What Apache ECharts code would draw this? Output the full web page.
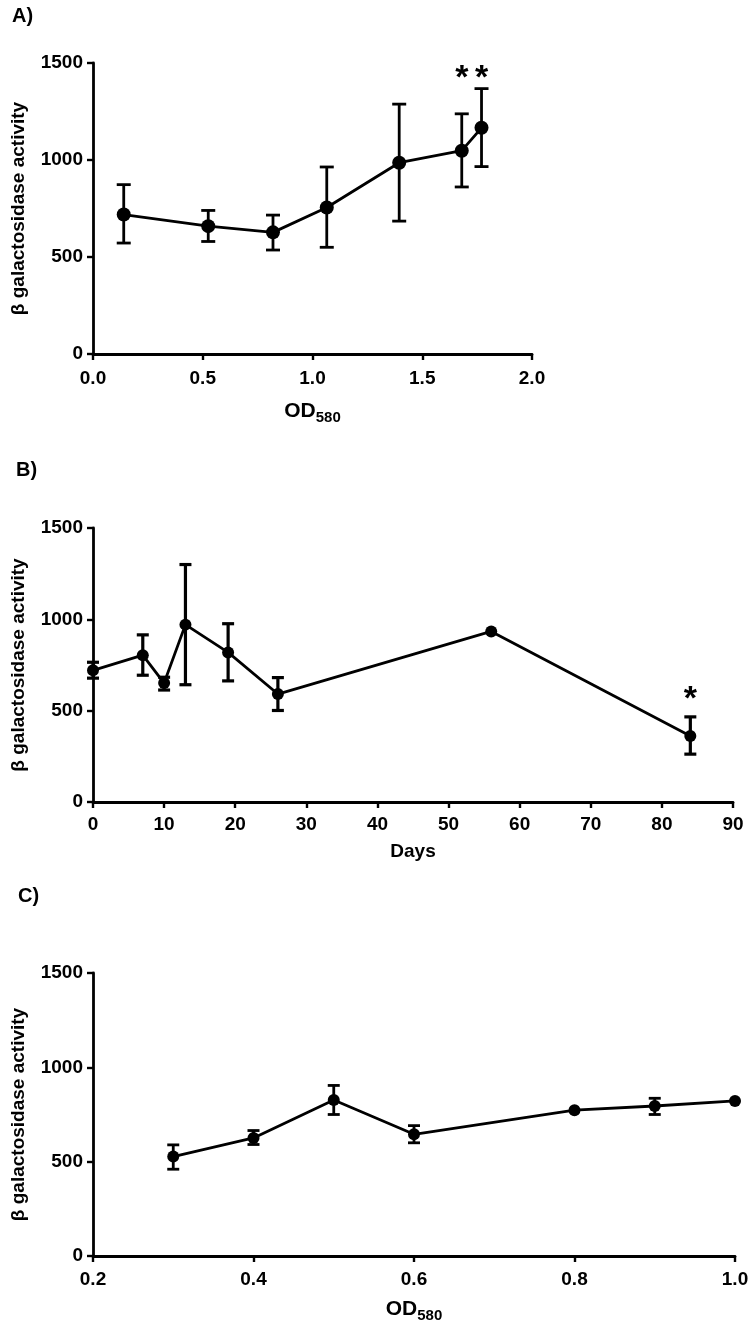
<!DOCTYPE html>
<html>
<head>
<meta charset="utf-8">
<script src="https://cdn.jsdelivr.net/npm/echarts@6/dist/echarts.min.js"></script>
<style>
html,body{margin:0;padding:0;background:#fff;}
#chart{width:755px;height:1331px;}
</style>
</head>
<body>
<div id="chart"></div>
<script>
// ---- Panel A: activity vs OD580 ----
const aOD    = [0.14, 0.525, 0.82, 1.065, 1.395, 1.68, 1.77];
const aMean  = [719, 659, 627, 755, 986, 1048, 1166];
const aLow   = [572, 580, 536, 550, 685, 861, 966];
const aHigh  = [873, 740, 716, 964, 1288, 1238, 1368];
const aStars = [[1.68, 1460], [1.77, 1460]];

// ---- Panel B: activity vs Days ----
const bDays  = [0, 7, 10, 13, 19, 26, 56, 84];
const bMean  = [721, 804, 651, 971, 819, 591, 934, 361];
const bLow   = [678, 694, 613, 642, 663, 501, null, 262];
const bHigh  = [765, 915, 683, 1300, 976, 681, null, 466];
const bStars = [[84, 605]];

// ---- Panel C: activity vs OD580 ----
const cOD    = [0.3, 0.4, 0.5, 0.6, 0.8, 0.9, 1.0];
const cMean  = [527, 626, 827, 645, 773, 795, 822];
const cLow   = [460, 591, 750, 600, null, 750, null];
const cHigh  = [589, 665, 904, 691, null, 836, null];

const yTicks = [0, 500, 1000, 1500];
const yTitle = 'β galactosidase activity';
const panelLabels = ['A)', 'B)', 'C)'];

const FONT = '"Liberation Sans", Arial, Helvetica, sans-serif';

function pts(xs, ys) { return xs.map((x, i) => [x, ys[i]]); }
function bars(xs, lo, hi) {
  const out = [];
  xs.forEach((x, i) => { if (lo[i] != null && hi[i] != null) out.push([x, lo[i], hi[i]]); });
  return out;
}

function errRender(capHalf, lw) {
  return function (params, api) {
    const x = api.value(0), lo = api.value(1), hi = api.value(2);
    const t = api.coord([x, hi]), b = api.coord([x, lo]);
    const st = { stroke: '#000', lineWidth: lw };
    return {
      type: 'group',
      children: [
        { type: 'line', shape: { x1: t[0], y1: t[1], x2: b[0], y2: b[1] }, style: st },
        { type: 'line', shape: { x1: t[0] - capHalf, y1: t[1], x2: t[0] + capHalf, y2: t[1] }, style: st },
        { type: 'line', shape: { x1: b[0] - capHalf, y1: b[1], x2: b[0] + capHalf, y2: b[1] }, style: st }
      ]
    };
  };
}
function starRender(params, api) {
  const p = api.coord([api.value(0), api.value(1)]);
  return {
    type: 'text',
    x: p[0], y: p[1] + 8,
    style: {
      text: '*', font: 'bold 34px ' + FONT, fill: '#000',
      align: 'center', verticalAlign: 'middle',
      textAlign: 'center', textVerticalAlign: 'middle'
    }
  };
}

const grids = [
  { left: 93, top: 63, width: 439, height: 291 },
  { left: 93, top: 528, width: 640, height: 274 },
  { left: 93, top: 973, width: 642, height: 283 }
].map(g => Object.assign({ containLabel: false, outerBoundsMode: 'none' }, g));

const axisLineStyle = { show: true, onZero: false, lineStyle: { color: '#000', width: 2.8 } };
const tickStyle = { show: true, inside: false, length: 6, lineStyle: { color: '#000', width: 2.4 } };
const labelBase = { color: '#000', fontWeight: 'bold', fontSize: 19, fontFamily: FONT };

const odName = '{m|OD}{s|580}';
const odRich = {
  m: { fontSize: 21, fontWeight: 'bold', fontFamily: FONT, color: '#000' },
  s: { fontSize: 15, fontWeight: 'bold', fontFamily: FONT, color: '#000', padding: [13, 0, 0, 0] }
};

const xAxes = [
  { gridIndex: 0, type: 'value', min: 0, max: 2, interval: 0.5,
    name: odName, nameLocation: 'middle', nameGap: 43, nameTextStyle: { rich: odRich },
    axisLabel: Object.assign({ margin: 15, formatter: v => v.toFixed(1) }, labelBase) },
  { gridIndex: 1, type: 'value', min: 0, max: 90, interval: 10,
    name: 'Days', nameLocation: 'middle', nameGap: 40,
    nameTextStyle: { fontSize: 19, fontWeight: 'bold', fontFamily: FONT, color: '#000' },
    axisLabel: Object.assign({ margin: 13, formatter: v => String(v) }, labelBase) },
  { gridIndex: 2, type: 'value', min: 0.2, max: 1.0, interval: 0.2,
    name: odName, nameLocation: 'middle', nameGap: 39, nameTextStyle: { rich: odRich },
    axisLabel: Object.assign({ margin: 14, formatter: v => v.toFixed(1) }, labelBase) }
].map(a => Object.assign({ axisLine: axisLineStyle, axisTick: tickStyle, splitLine: { show: false } }, a));

const yAxes = [0, 1, 2].map(i => ({
  gridIndex: i, type: 'value', min: yTicks[0], max: yTicks[yTicks.length - 1], interval: 500,
  name: yTitle, nameLocation: 'middle', nameGap: 65,
  nameTextStyle: { fontSize: 19, fontWeight: 'bold', fontFamily: FONT, color: '#000' },
  axisLine: axisLineStyle, axisTick: tickStyle, splitLine: { show: false },
  axisLabel: Object.assign({ margin: 10, formatter: v => String(v) }, labelBase)
}));

function lineSeries(i, data, size) {
  return {
    type: 'line', xAxisIndex: i, yAxisIndex: i, data: data, clip: false,
    symbol: 'circle', symbolSize: size, showSymbol: true,
    lineStyle: { color: '#000', width: 2.8 },
    itemStyle: { color: '#000' }, animation: false, z: 3
  };
}
function errSeries(i, data, cap, lw) {
  return {
    type: 'custom', xAxisIndex: i, yAxisIndex: i, data: data, clip: false,
    renderItem: errRender(cap, lw), encode: { x: 0, y: [1, 2] }, animation: false, z: 2
  };
}
function starSeries(i, data) {
  return {
    type: 'custom', xAxisIndex: i, yAxisIndex: i, data: data, clip: false,
    renderItem: starRender, encode: { x: 0, y: 1 }, animation: false, z: 4
  };
}

const chart = echarts.init(document.getElementById('chart'), null, { renderer: 'canvas' });
chart.setOption({
  backgroundColor: '#fff',
  animation: false,
  title: [
    { text: panelLabels[0], left: 12, top: 6 },
    { text: panelLabels[1], left: 16, top: 460 },
    { text: panelLabels[2], left: 18, top: 886 }
  ].map(t => Object.assign({ padding: 0, textStyle: { fontSize: 20, fontWeight: 'bold', fontFamily: FONT, color: '#000' } }, t)),
  grid: grids,
  xAxis: xAxes,
  yAxis: yAxes,
  series: [
    errSeries(0, bars(aOD, aLow, aHigh), 7, 2.8),
    lineSeries(0, pts(aOD, aMean), 14),
    starSeries(0, aStars),
    errSeries(1, bars(bDays, bLow, bHigh), 6, 3.2),
    lineSeries(1, pts(bDays, bMean), 12),
    starSeries(1, bStars),
    errSeries(2, bars(cOD, cLow, cHigh), 6, 2.8),
    lineSeries(2, pts(cOD, cMean), 12)
  ]
});
</script>
</body>
</html>
